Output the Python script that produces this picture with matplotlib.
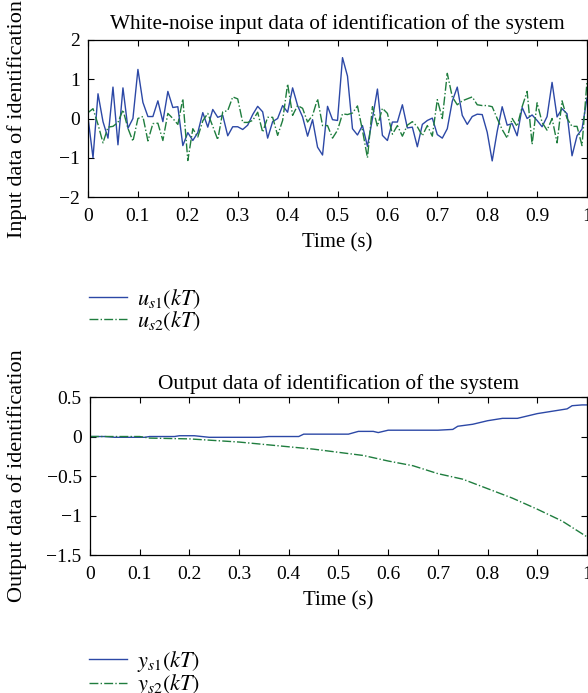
import numpy as np
import matplotlib.pyplot as plt

plt.rcParams['font.family'] = ['Liberation Serif', 'DejaVu Serif']
plt.rcParams['mathtext.fontset'] = 'stix'
plt.rcParams['font.size'] = 14

# white-noise input, sampled every 0.01 s
t_in = np.arange(101) / 100.0
u_s1 = [0.02, -1.0, 0.63, -0.08, -0.5, 0.8, -0.67, 0.78, -0.25, 0.0,
        1.25, 0.41, 0.05, 0.05, 0.45, -0.08, 0.69, 0.28, 0.3, -0.69,
        -0.36, -0.56, -0.36, 0.15, -0.22, 0.23, 0.03, 0.08, -0.44, -0.21,
        -0.21, -0.28, -0.17, 0.1, 0.31, 0.17, -0.5, -0.08, 0.0, 0.33,
        0.16, 0.78, 0.33, 0.04, -0.45, -0.03, -0.73, -0.93, 0.31, -0.03,
        -0.05, 1.55, 1.08, -0.26, -0.42, -0.18, -0.71, 0.0, 0.75, -0.43,
        -0.56, -0.09, -0.09, 0.35, -0.24, -0.22, -0.72, -0.15, -0.05, 0.01,
        -0.41, -0.5, -0.26, 0.44, 0.8, 0.08, -0.15, 0.05, 0.11, 0.1,
        -0.35, -1.08, -0.33, 0.3, -0.17, -0.13, -0.44, 0.28, 0.0, 0.09,
        -0.05, -0.21, 0.05, 0.92, 0.04, 0.25, 0.12, -0.95, -0.44, -0.27,
        0.52]
u_s2 = [0.15, 0.25, -0.15, -0.62, -0.22, -0.2, -0.1, 0.22, -0.25, -0.58,
        0.0, 0.05, -0.57, -0.13, -0.12, -0.56, 0.13, 0.0, -0.15, 0.5,
        -1.07, -0.26, -0.47, -0.06, 0.13, -0.2, -0.54, 0.17, 0.2, 0.55,
        0.5, -0.1, -0.1, -0.05, 0.16, -0.35, 0.03, 0.03, -0.43, -0.05,
        0.88, 0.08, 0.33, 0.26, -0.09, 0.08, 0.5, -0.18, -0.18, -0.5,
        -0.3, 0.12, 0.1, 0.14, 0.32, -0.3, -1.0, 0.3, -0.2, 0.26,
        0.13, -0.4, -0.18, -0.45, -0.17, -0.08, -0.21, -0.44, -0.18, -0.45,
        0.48, 0.0, 1.15, 0.55, 0.35, 0.45, 0.5, 0.55, 0.35, 0.33,
        0.33, 0.3, 0.0, -0.28, -0.5, 0.0, -0.2, 0.3, 0.69, -0.66,
        0.4, -0.1, -0.3, 0.0, -0.62, 0.45, 0.0, -0.2, -0.2, -0.69,
        0.95]

# system outputs
t_y1 = [0.0, 0.03, 0.05, 0.11, 0.12, 0.17, 0.18, 0.21, 0.24, 0.34, 0.36, 0.42,
        0.43, 0.52, 0.54, 0.57, 0.58, 0.6, 0.7, 0.73, 0.74, 0.77, 0.8, 0.83,
        0.86, 0.9, 0.93, 0.96, 0.97, 0.99, 1.0]
y_s1 = [0.0, 0.0, -0.01, -0.01, 0.0, 0.0, 0.01, 0.01, -0.01, -0.01, 0.0, 0.0,
        0.03, 0.03, 0.065, 0.065, 0.05, 0.08, 0.08, 0.09, 0.13, 0.155, 0.2, 0.23,
        0.23, 0.29, 0.32, 0.35, 0.39, 0.4, 0.4]
t_y2 = [0.0, 0.05, 0.1, 0.12, 0.2, 0.25, 0.3, 0.35, 0.4, 0.45, 0.5, 0.55, 0.6,
        0.65, 0.7, 0.75, 0.8, 0.85, 0.9, 0.95, 1.0]
y_s2 = [0.0, 0.0, 0.0, -0.02, -0.03, -0.05, -0.07, -0.1, -0.13, -0.16, -0.2,
        -0.24, -0.31, -0.37, -0.47, -0.54, -0.66, -0.78, -0.92, -1.07, -1.27]

blue = '#2c48a6'
green = '#1f7d3e'
xticks = [0, 0.1, 0.2, 0.3, 0.4, 0.5, 0.6, 0.7, 0.8, 0.9, 1]
xticklabels = ['0', '0.1', '0.2', '0.3', '0.4', '0.5', '0.6', '0.7', '0.8', '0.9', '1']

fig = plt.figure(figsize=(5.88, 6.93), dpi=100)
ax1 = fig.add_axes([0.1497, 0.7157, 0.8486, 0.2266])
ax2 = fig.add_axes([0.153, 0.1991, 0.8453, 0.228])

l1, = ax1.plot(t_in, u_s1, color=blue, lw=1.0, label=r'$u_{s1}(kT)$')
l2, = ax1.plot(t_in, u_s2, color=green, lw=1.0, ls='-.', label=r'$u_{s2}(kT)$')
ax1.set_ylim(-2, 2)
ax1.set_yticks([-2, -1, 0, 1, 2])
ax1.set_title('White-noise input data of identification of the system',
              fontsize=15.3, pad=8)
ax1.set_ylabel('Input data of identification', fontsize=16)
ax1.yaxis.set_label_coords(-0.122, 0.5)

m1, = ax2.plot(t_y1, y_s1, color=blue, lw=1.0, label=r'$y_{s1}(kT)$')
m2, = ax2.plot(t_y2, y_s2, color=green, lw=1.0, ls='-.', label=r'$y_{s2}(kT)$')
ax2.set_ylim(-1.5, 0.5)
ax2.set_yticks([-1.5, -1, -0.5, 0, 0.5])
ax2.set_yticklabels(['\u22121.5', '\u22121', '\u22120.5', '0', '0.5'])
ax2.set_title('Output data of identification of the system', fontsize=15.3, pad=6)
ax2.set_ylabel('Output data of identification', fontsize=16)
ax2.yaxis.set_label_coords(-0.127, 0.5)

for ax in (ax1, ax2):
    ax.set_xlim(0, 1)
    ax.set_xticks(xticks)
    ax.set_xticklabels(xticklabels)
    ax.set_xlabel('Time (s)', fontsize=15, labelpad=6)
    ax.tick_params(direction='in', top=True, right=True, length=4, width=0.8,
                   labelsize=14)
    ax.tick_params(axis='x', pad=8)
    ax.tick_params(axis='y', pad=6)
    for s in ax.spines.values():
        s.set_linewidth(0.9)

leg_kw = dict(loc='upper left', frameon=False, handlelength=1.7, handletextpad=0.45,
              labelspacing=-0.06, fontsize=16, borderaxespad=0.0, borderpad=0.0)
fig.legend(handles=[l1, l2], bbox_to_anchor=(0.152, 0.586), **leg_kw)
fig.legend(handles=[m1, m2], bbox_to_anchor=(0.152, 0.064), **leg_kw)

fig.savefig('out.png', dpi=100)
